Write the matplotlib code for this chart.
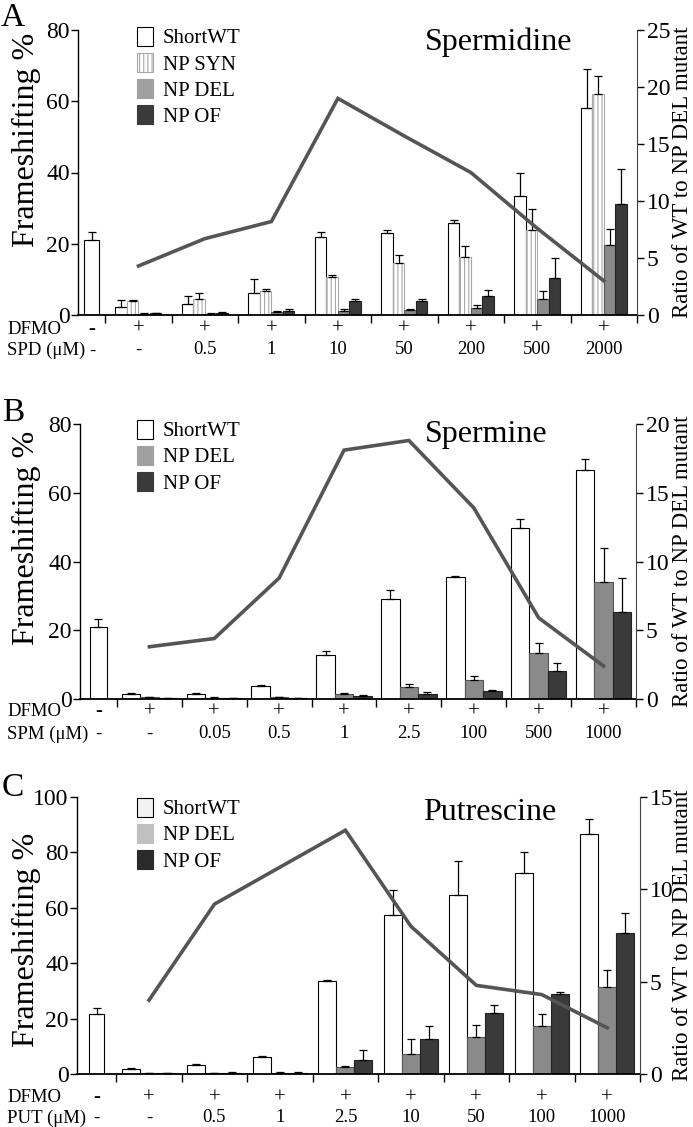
import numpy as np
import matplotlib
matplotlib.use("Agg")
import matplotlib.pyplot as plt
from matplotlib.patches import Patch
from matplotlib import transforms

plt.rcParams["font.family"] = ["Liberation Serif", "DejaVu Serif"]
plt.rcParams["hatch.linewidth"] = 0.8

nan = np.nan
dfmo = ["-", "+", "+", "+", "+", "+", "+", "+", "+"]

# A - spermidine
spd_conc = ["", "-", "0.5", "1", "10", "50", "200", "500", "2000"]
spd_wt = [21.0, 2.2, 3.2, 6.2, 22.0, 23.0, 25.8, 33.5, 58.0]
spd_wt_err = [2.4, 2.0, 2.2, 4.0, 1.4, 0.9, 1.0, 6.5, 11.0]
spd_syn = [nan, 3.9, 4.5, 6.6, 10.8, 14.7, 16.2, 24.0, 62.0]
spd_syn_err = [nan, 0.3, 1.6, 0.6, 0.4, 2.2, 3.3, 5.8, 5.0]
spd_del = [nan, 0.4, 0.4, 0.8, 1.1, 1.4, 2.0, 4.6, 19.6]
spd_del_err = [nan, 0.2, 0.2, 0.2, 0.6, 0.3, 0.7, 2.2, 4.5]
spd_of = [nan, 0.5, 0.6, 1.1, 3.8, 3.8, 5.3, 10.3, 31.2]
spd_of_err = [nan, 0.2, 0.3, 0.6, 0.7, 0.8, 1.8, 5.8, 9.7]
spd_ratio = [4.3, 6.7, 8.2, 19.0, 15.7, 12.5, 7.6, 3.0]

# B - spermine
spm_conc = ["-", "-", "0.05", "0.5", "1", "2.5", "100", "500", "1000"]
spm_wt = [21.0, 1.5, 1.5, 3.9, 12.8, 29.2, 35.5, 49.8, 66.5]
spm_wt_err = [2.3, 0.3, 0.3, 0.3, 1.2, 2.5, 0.3, 2.5, 3.2]
spm_del = [nan, 0.5, 0.4, 0.6, 1.5, 3.5, 5.5, 13.5, 34.0]
spm_del_err = [nan, 0.1, 0.1, 0.1, 0.3, 0.8, 1.1, 2.7, 9.8]
spm_of = [nan, 0.3, 0.3, 0.3, 0.8, 1.5, 2.3, 8.2, 25.3]
spm_of_err = [nan, 0.1, 0.1, 0.1, 0.3, 0.4, 0.3, 2.2, 9.8]
spm_ratio = [3.8, 4.4, 8.8, 18.1, 18.8, 13.9, 5.9, 2.4]

# C - putrescine
put_conc = ["-", "-", "0.5", "1", "2.5", "10", "50", "100", "1000"]
put_wt = [21.5, 1.7, 3.4, 6.3, 33.6, 57.3, 64.5, 72.5, 86.5]
put_wt_err = [2.3, 0.3, 0.3, 0.2, 0.3, 9.3, 12.5, 7.8, 5.6]
put_del = [nan, 0.3, 0.2, 0.5, 2.6, 7.3, 13.5, 17.3, 31.5]
put_del_err = [nan, 0.1, 0.1, 0.2, 0.4, 5.5, 4.2, 4.5, 6.0]
put_of = [nan, 0.3, 0.5, 0.5, 5.2, 12.8, 22.0, 28.8, 51.0]
put_of_err = [nan, 0.1, 0.3, 0.2, 3.3, 4.6, 3.0, 0.8, 7.2]
put_ratio = [4.0, 9.2, 11.2, 13.2, 8.0, 4.8, 4.3, 2.5]

W, H = 693, 1127
fig = plt.figure(figsize=(W / 100, H / 100), dpi=100)

WHITE = dict(fc="white", ec="black", hatch=None)
SYN = dict(fc="white", ec="#a8a8a8", hatch="||||")
DEL = dict(fc="#8a8a8a", ec="#555555", hatch=None)
OF = dict(fc="#3a3a3a", ec="#222222", hatch=None)


def panel(box, letter, title, title_xy, w0, bw0, bw, series, ratio, ymax, rmax, rstep,
          conc, conc_label, rows_y, leg_xy, leg_items, letter_y, ylab_y):
    l, t, r, b = box
    ax = fig.add_axes([l / W, 1 - b / H, (r - l) / W, (b - t) / H])
    centres = np.r_[w0 / 2, w0 + np.arange(8) + 0.5]
    n = len(series)
    for k, (vals, errs, st) in enumerate(series):
        vals = np.asarray(vals, float)
        errs = np.asarray(errs, float)
        x = centres[1:] + (k - (n - 1) / 2) * bw
        ax.bar(x, vals[1:], bw, facecolor=st["fc"], edgecolor=st["ec"], hatch=st["hatch"],
               linewidth=0.8, zorder=2)
        ax.errorbar(x, vals[1:], yerr=[np.zeros(8), errs[1:]], fmt="none", ecolor="black",
                    elinewidth=0.9, capsize=3, capthick=0.9, zorder=3)
        if k == 0:
            ax.bar(centres[0], vals[0], bw0, facecolor="white", edgecolor="black", linewidth=0.8, zorder=2)
            ax.errorbar(centres[0], vals[0], yerr=[[0], [errs[0]]], fmt="none", ecolor="black",
                        elinewidth=0.9, capsize=3, capthick=0.9, zorder=3)
    ax.set_xlim(0, w0 + 8)
    ax.set_ylim(0, ymax)
    ax.set_yticks(np.arange(0, ymax + 1, 20))
    ax.set_xticks(w0 + np.arange(9))
    ax.set_xticklabels([])
    ax.tick_params(axis="x", direction="out", length=6, width=1)
    ax.tick_params(axis="y", direction="out", length=5, width=1, labelsize=17, pad=1)
    for s in ("top", "right"):
        ax.spines[s].set_visible(False)
    ax.spines["left"].set_linewidth(1)
    ax.spines["bottom"].set_linewidth(1.3)

    ax2 = ax.twinx()
    ax2.plot(centres[1:], ratio, color="#555555", lw=2.6, solid_joinstyle="miter")
    ax2.set_ylim(0, rmax)
    ax2.set_yticks(np.arange(0, rmax + 0.1, rstep))
    ax2.tick_params(axis="y", direction="out", length=5, width=1, labelsize=17, pad=2)
    for s in ("top", "left", "bottom"):
        ax2.spines[s].set_visible(False)
    ax2.spines["right"].set_color("#444444")

    fig.text(13 / W, 1 - letter_y / H, letter, fontsize=24, ha="center", va="center")
    fig.text(26 / W, 1 - ylab_y / H, "Frameshifting %", fontsize=23, rotation=90,
             ha="center", va="center")
    fig.text(683 / W, 1 - ((t + b) / 2) / H, "Ratio of WT to NP DEL mutant", fontsize=16.5,
             rotation=90, ha="center", va="center")
    fig.text(title_xy[0] / W, 1 - title_xy[1] / H, title, fontsize=23, ha="center", va="center")

    tr = transforms.blended_transform_factory(ax.transData, fig.transFigure)
    fig.text(7 / W, 1 - rows_y[0] / H, "DFMO", fontsize=13.5, ha="left", va="center")
    fig.text(7 / W, 1 - rows_y[1] / H, conc_label, fontsize=13.5, ha="left", va="center")
    for c, d, s in zip(centres, dfmo, conc):
        ax.text(c, 1 - rows_y[0] / H, d, transform=tr, fontsize=15, ha="center", va="center")
        ax.text(c, 1 - rows_y[1] / H, s, transform=tr, fontsize=13.5, ha="center", va="center")

    handles = [Patch(facecolor=fc, edgecolor=ec, hatch=h, linewidth=0.8) for fc, ec, h, _ in leg_items]
    labels = [lab for _, _, _, lab in leg_items]
    ax.legend(handles, labels, loc="upper left", bbox_to_anchor=(leg_xy[0] / W, 1 - leg_xy[1] / H),
              bbox_transform=fig.transFigure, frameon=False, fontsize=15, handlelength=0.75,
              handleheight=1.0, handletextpad=0.5, labelspacing=0.22, borderpad=0, borderaxespad=0)
    return ax


panel((78, 30, 637, 315), "A", "Spermidine", (499, 42), 0.41, 0.23, 0.173,
      [(spd_wt, spd_wt_err, WHITE), (spd_syn, spd_syn_err, SYN),
       (spd_del, spd_del_err, DEL), (spd_of, spd_of_err, OF)],
      spd_ratio, 80, 25, 5, spd_conc, "SPD (\u03bcM) -", (329, 350), (137, 27),
      [("white", "black", None, "ShortWT"), ("white", "#a8a8a8", "||||", "NP SYN"),
       ("#a0a0a0", "#a0a0a0", None, "NP DEL"), ("#3a3a3a", "#3a3a3a", None, "NP OF")],
      18, 140)

panel((80, 424, 636, 699), "B", "Spermine", (486, 434), 0.57, 0.25, 0.285,
      [(spm_wt, spm_wt_err, WHITE), (spm_del, spm_del_err, DEL), (spm_of, spm_of_err, OF)],
      spm_ratio, 80, 20, 5, spm_conc, "SPM (\u03bcM)", (712, 734), (137, 420),
      [("white", "black", None, "ShortWT"), ("#a0a0a0", "#a0a0a0", None, "NP DEL"),
       ("#3a3a3a", "#3a3a3a", None, "NP OF")],
      413, 538)

panel((77, 797, 640, 1074), "C", "Putrescine", (490, 812), 0.6, 0.23, 0.275,
      [(put_wt, put_wt_err, WHITE), (put_del, put_del_err, DEL), (put_of, put_of_err, OF)],
      put_ratio, 100, 15, 5, put_conc, "PUT (\u03bcM)", (1098, 1118), (137, 798),
      [("#f2f2f2", "black", None, "ShortWT"), ("#c0c0c0", "#c0c0c0", None, "NP DEL"),
       ("#2a2a2a", "#2a2a2a", None, "NP OF")],
      788, 940)

fig.savefig("out.png", dpi=100)
